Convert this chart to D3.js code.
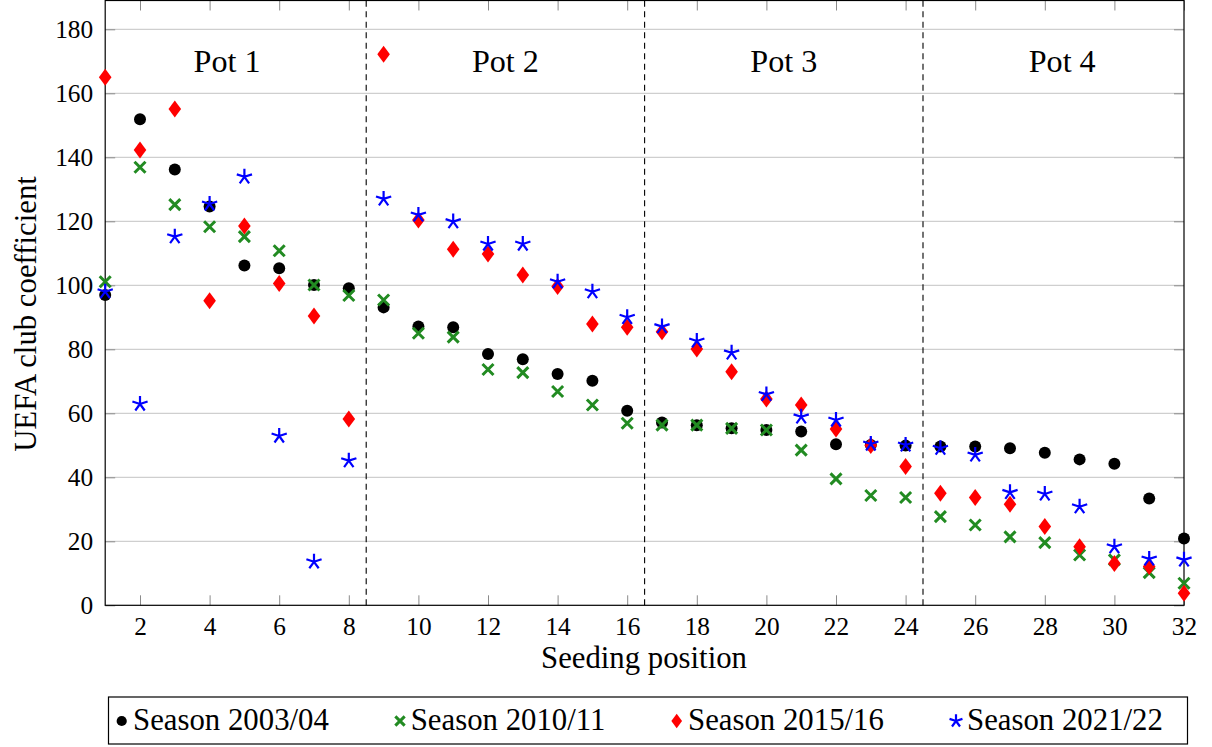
<!DOCTYPE html>
<html>
<head>
<meta charset="utf-8">
<script src="https://cdn.jsdelivr.net/npm/d3@7"></script>
<style>
  html, body { margin: 0; padding: 0; background: #fff; }
  svg { display: block; }
</style>
</head>
<body>
<svg id="chart" width="1212" height="747"></svg>
<script>
// ---- data ----
const positions = d3.range(1, 33);
const season2003 = [97, 151.9, 136.2, 124.6, 106.2, 105.3, 100.1, 99.1, 93.1, 87.1, 86.9, 78.5, 76.9, 72.3, 70.2, 60.8,
                    57.1, 56.3, 55.3, 54.8, 54.3, 50.3, 50.1, 49.9, 49.6, 49.6, 49.1, 47.7, 45.6, 44.2, 33.4, 20.9];
const season2010 = [101.1, 136.9, 125.2, 118.3, 115.2, 110.8, 100.1, 96.8, 95.4, 85, 83.8, 73.7, 72.7, 66.8, 62.6, 56.9,
                    56.3, 56.3, 55.3, 54.8, 48.5, 39.5, 34.3, 33.7, 27.7, 25.1, 21.4, 19.6, 15.7, 14.2, 10.2, 6.9];
const season2015 = [165, 142.3, 155.1, 95.2, 118.5, 100.6, 90.4, 58.2, 172.2, 120.4, 111.3, 109.8, 103.2, 99.6, 87.9, 86.9,
                    85.5, 80.1, 73, 64.5, 62.6, 55.1, 49.9, 43.4, 35, 33.7, 31.6, 24.6, 18.3, 13.1, 12.1, 3.8];
const season2021 = [98, 62.9, 115.2, 125.4, 133.9, 52.9, 13.6, 45.2, 127, 122, 119.9, 112.9, 112.9, 101.1, 98, 90,
                    87.1, 82.6, 78.9, 65.9, 58.9, 57.9, 50.4, 50.1, 49.1, 47, 35.3, 34.8, 30.8, 18.3, 14.5, 14.2];
const seriesNames = ["Season 2003/04", "Season 2010/11", "Season 2015/16", "Season 2021/22"];
const potLabels = ["Pot 1", "Pot 2", "Pot 3", "Pot 4"];
const potCenters = [4.5, 12.5, 20.5, 28.5];
const potBoundaries = [8.5, 16.5, 24.5];
const xTicks = d3.range(2, 33, 2);
const yTicks = d3.range(0, 181, 20);

// ---- font selection (serif, sized to match reference text widths) ----
const cv = document.createElement("canvas").getContext("2d");
function available(name) {
  const probe = "abcdefghijklmnopqrstuvwxyzABCDEFGHIJ0123456789";
  cv.font = "72px monospace"; const a = cv.measureText(probe).width;
  cv.font = `72px "${name}", monospace`; const b = cv.measureText(probe).width;
  return Math.abs(a - b) > 0.5;
}
const fontCandidates = ["Liberation Serif", "DejaVu Serif", "Noto Serif", "Times New Roman"];
const fontName = fontCandidates.find(available) || "serif";
const FONT = `"${fontName}", serif`;
function sizeFor(str, targetWidth) {
  cv.font = `100px ${FONT}`;
  return 100 * targetWidth / cv.measureText(str).width;
}
const tickSize = Math.min(26, sizeFor("180", 38));
const labelSize = sizeFor("Seeding position", 206);
const legendSize = sizeFor("Season 2003/04", 196);
const potSize = sizeFor("Pot 1", 67);

// ---- layout ----
const svg = d3.select("#chart").attr("font-family", FONT);
const x = d3.scaleLinear().domain([1, 32]).range([105.2, 1184]);
const y = d3.scaleLinear().domain([0, 189]).range([605.3, 0.5]);
const [x0, x1] = x.range();
const [y0, y1] = y.range();

const colors = ["#000000", "#228b22", "#ff0000", "#0000ff"];

function drawMarker(g, kind, cx, cy, s = 1) {
  if (kind === 0) {
    g.append("circle").attr("cx", cx).attr("cy", cy).attr("r", 6 * s).attr("fill", colors[0]);
  } else if (kind === 1) {
    const h = 5.5 * s;
    g.append("path")
      .attr("d", `M${cx - h},${cy - h}L${cx + h},${cy + h}M${cx - h},${cy + h}L${cx + h},${cy - h}`)
      .attr("stroke", colors[1]).attr("stroke-width", 3).attr("fill", "none");
  } else if (kind === 2) {
    const hw = 6.3 * s, hh = 8.5 * s;
    g.append("path")
      .attr("d", `M${cx},${cy - hh}L${cx + hw},${cy}L${cx},${cy + hh}L${cx - hw},${cy}Z`)
      .attr("fill", colors[2]);
  } else {
    const r = 8 * s;
    let d = "";
    for (let i = 0; i < 5; i++) {
      const a = (-90 + i * 72) * Math.PI / 180;
      d += `M${cx},${cy}L${cx + r * Math.cos(a)},${cy + r * Math.sin(a)}`;
    }
    g.append("path").attr("d", d).attr("stroke", colors[3]).attr("stroke-width", 2.2)
      .attr("fill", "none").attr("stroke-linecap", "butt");
  }
}

// grid
svg.append("g").selectAll("line").data(yTicks.filter(v => v > 0)).join("line")
  .attr("x1", x0).attr("x2", x1)
  .attr("y1", d => y(d)).attr("y2", d => y(d))
  .attr("stroke", "#c4c4c4").attr("stroke-width", 1);

// axes (ticks inward)
const tickColor = "#8a8a8a";
const gBottom = svg.append("g").attr("transform", `translate(0,${y0})`)
  .call(d3.axisBottom(x).tickValues(xTicks).tickSize(-10).tickSizeOuter(0));
gBottom.selectAll("text").attr("y", 30).attr("dy", null);
const gTop = svg.append("g").attr("transform", `translate(0,${y1})`)
  .call(d3.axisTop(x).tickValues(xTicks).tickSize(-10).tickSizeOuter(0).tickFormat(""));
const gLeft = svg.append("g").attr("transform", `translate(${x0},0)`)
  .call(d3.axisLeft(y).tickValues(yTicks).tickSize(-10).tickPadding(12).tickSizeOuter(0));
gLeft.selectAll("text").attr("dy", "0.34em");
const gRight = svg.append("g").attr("transform", `translate(${x1},0)`)
  .call(d3.axisRight(y).tickValues(yTicks).tickSize(-10).tickSizeOuter(0).tickFormat(""));
[gBottom, gTop, gLeft, gRight].forEach(g => {
  g.attr("font-family", FONT).attr("font-size", tickSize);
  g.select(".domain").remove();
  g.selectAll(".tick line").attr("stroke", tickColor);
  g.selectAll("text").attr("fill", "#000");
});

// frame
svg.append("rect").attr("x", x0).attr("y", y1).attr("width", x1 - x0).attr("height", y0 - y1)
  .attr("fill", "none").attr("stroke", "#000").attr("stroke-width", 1.2);

// pot separators
svg.append("g").selectAll("line").data(potBoundaries).join("line")
  .attr("x1", d => x(d)).attr("x2", d => x(d)).attr("y1", y0).attr("y2", y1)
  .attr("stroke", "#000").attr("stroke-width", 1.1).attr("stroke-dasharray", "6,4.5");

// pot labels
svg.append("g").selectAll("text").data(potLabels).join("text")
  .attr("x", (d, i) => x(potCenters[i])).attr("y", 72)
  .attr("text-anchor", "middle").attr("font-size", potSize).text(d => d);

// series
const allSeries = [season2003, season2010, season2015, season2021];
allSeries.forEach((vals, k) => {
  const g = svg.append("g");
  vals.forEach((v, i) => drawMarker(g, k, x(positions[i]), y(v)));
});

// axis labels
svg.append("text").attr("x", 644).attr("y", 668).attr("text-anchor", "middle")
  .attr("font-size", labelSize).text("Seeding position");
svg.append("text").attr("transform", "translate(36,314) rotate(-90)").attr("text-anchor", "middle")
  .attr("font-size", labelSize).text("UEFA club coefficient");

// legend
const legend = svg.append("g");
legend.append("rect").attr("x", 108.5).attr("y", 697).attr("width", 1079).attr("height", 47)
  .attr("fill", "#fff").attr("stroke", "#000").attr("stroke-width", 1.2);
const legMarkX = [121.7, 400, 676.7, 956];
const legTextX = [133, 410.7, 688, 967];
seriesNames.forEach((name, k) => {
  drawMarker(legend, k, legMarkX[k], 721, 0.85);
  legend.append("text").attr("x", legTextX[k]).attr("y", 730).attr("font-size", legendSize).text(name);
});
</script>
</body>
</html>
